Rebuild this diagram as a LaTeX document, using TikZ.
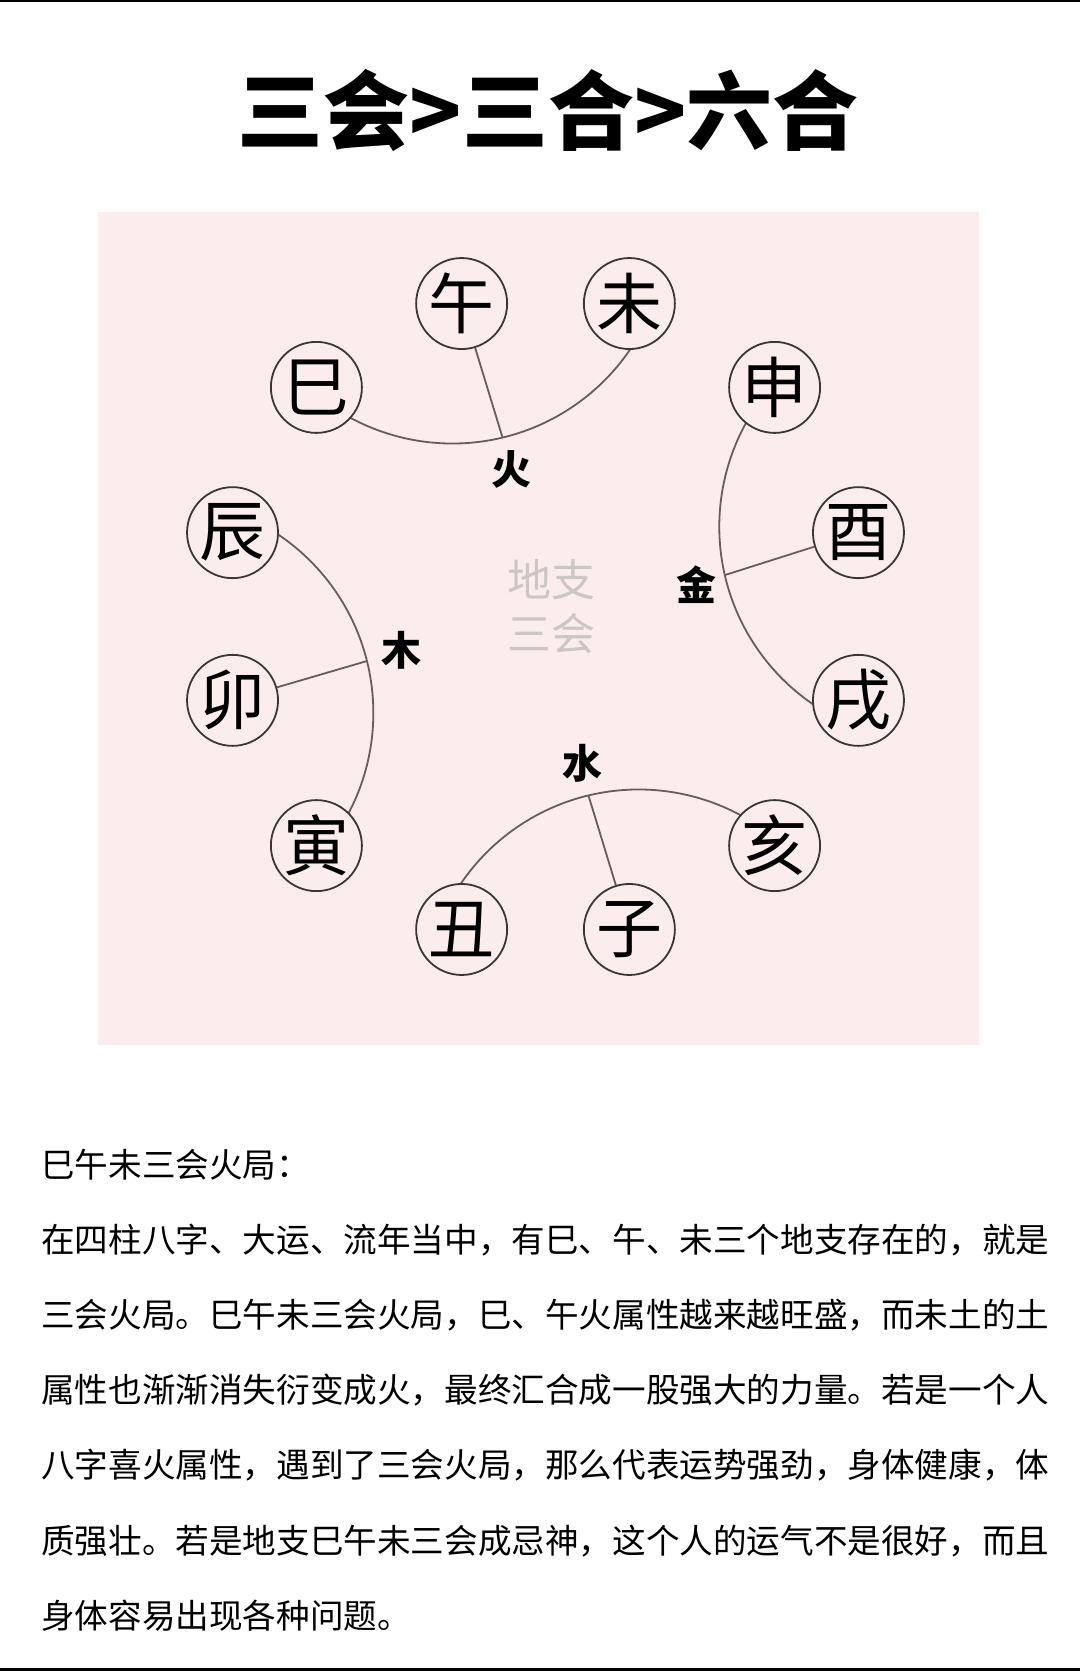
\documentclass[tikz,border=0pt]{standalone}
\usepackage{fontspec}
\newfontfamily\cjk{Noto Sans CJK SC}

\definecolor{bgpink}{RGB}{250,237,236}
\definecolor{arcline}{RGB}{110,90,90}
\definecolor{ringgray}{RGB}{60,55,55}
\definecolor{watermark}{RGB}{205,198,198}

\tikzset{
  branch/.style={circle, draw=ringgray, line width=1.8pt, fill=bgpink, minimum size=91pt, inner sep=0pt, font=\cjk\fontsize{66}{66}\selectfont},
  element/.style={inner sep=0pt, font=\cjk\bfseries\fontsize{40}{40}\selectfont},
  link/.style={draw=arcline, line width=1.8pt},
  textline/.style={anchor=base west, inner sep=0pt, font=\cjk\fontsize{33.6}{33.6}\selectfont},
}

\begin{document}
\begin{tikzpicture}[x=1pt, y=1pt]
    % Page with black rules top and bottom
    \useasboundingbox (0,0) rectangle (1080,-1671);
    \fill[white] (0,0) rectangle (1080,-1671);
    \fill[black] (0,0) rectangle (1080,-2);
    \fill[black] (0,-1668) rectangle (1080,-1671);

    % Title
    \node[inner sep=0pt, font=\cjk\bfseries\fontsize{86}{86}\selectfont] (title) at (548,-110) {三会>三合>六合};

    % Pink panel
    \fill[bgpink] (98,-212) rectangle (979,-1045);

    \begin{scope}[shift={(545.5,-616.5)}]
        % Arcs of the four groups
        \foreach \ang/\el in {103.5/fire, 13/metal, 194/wood, 283.5/water} {
            \coordinate (j\el) at (\ang:184);
            \draw[link] (j\el) arc[start angle=\ang+180, delta angle=45, radius=215];
            \draw[link] (j\el) arc[start angle=\ang+180, delta angle=-45, radius=215];
        }

        % Twelve branches
        \foreach \ang/\name/\zhi in {135/si/巳, 105/wu/午, 75/wei/未, 45/shen/申, 15/you/酉, -15/xu/戌,
                                     -45/hai/亥, -75/zi/子, -105/chou/丑, -135/yin/寅, -165/mao/卯, 165/chen/辰} {
            \node[branch] (\name) at (\ang:324) {\zhi};
        }

        % Middle branch to its arc
        \draw[link] (wu) -- (jfire);
        \draw[link] (you) -- (jmetal);
        \draw[link] (mao) -- (jwood);
        \draw[link] (zi) -- (jwater);

        % Elements
        \node[element] (huo) at (103:151) {火};
        \node[element] (jin) at (12:154) {金};
        \node[element] (mu) at (193:148) {木};
        \node[element] (shui) at (284:151) {水};

        \node[align=center, inner sep=0pt, text=watermark, font=\cjk\fontsize{44}{54}\selectfont] (centre) at (5.5,9.5) {地支\\三会};
    \end{scope}

    % Text below
    \foreach \txt [count=\i] in {巳午未三会火局：,
        在四柱八字、大运、流年当中，有巳、午、未三个地支存在的，就是,
        三会火局。巳午未三会火局，巳、午火属性越来越旺盛，而未土的土,
        属性也渐渐消失衍变成火，最终汇合成一股强大的力量。若是一个人,
        八字喜火属性，遇到了三会火局，那么代表运势强劲，身体健康，体,
        质强壮。若是地支巳午未三会成忌神，这个人的运气不是很好，而且,
        身体容易出现各种问题。} {
        \node[textline] (line\i) at (41,{-1177-75.2*(\i-1)}) {\txt};
    }
\end{tikzpicture}
\end{document}
